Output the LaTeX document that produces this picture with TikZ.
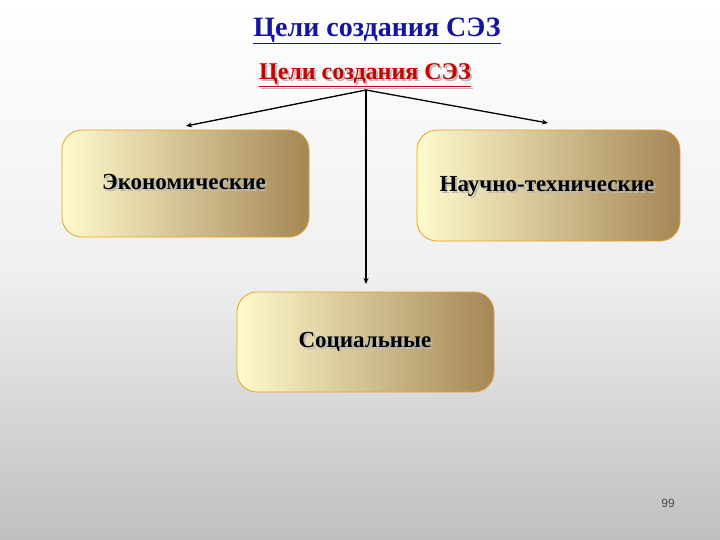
\documentclass[tikz,border=0pt]{standalone}
\usepackage{fontspec}
\setmainfont{Liberation Serif}
\setsansfont{Liberation Sans}
\usetikzlibrary{arrows.meta,shadows}
\definecolor{boxl}{RGB}{255,250,205}
\definecolor{boxr}{RGB}{165,135,85}
\definecolor{brd}{RGB}{235,160,40}
\tikzset{
 goal/.style={rounded corners=20pt,draw=brd,line width=0.8pt,left color=boxl,right color=boxr,shading angle=90},
 lbl/.style={font=\bfseries\fontsize{23}{27}\selectfont,text=black},
 conn/.style={line width=1.3pt,-{Stealth[length=6pt,width=5pt]}}
}
\newcommand{\shtext}[1]{\tikz[baseline]{\node[inner sep=0,anchor=base,text=gray!55] at (2pt,-2pt){#1};\node[inner sep=0,anchor=base] at (0,0){#1};}}
\begin{document}
\begin{tikzpicture}[x=1pt,y=-1pt]
\shade[top color=white,bottom color=black!25,middle color=black!6] (0,0) rectangle (720,540);
\useasboundingbox (0,0) rectangle (720,540);
\node (title) at (377,31) {\textcolor[RGB]{20,20,160}{\bfseries\fontsize{28}{32}\selectfont\underline{Цели создания СЭЗ}}};
\node (sub) at (366,76) {\textcolor[RGB]{200,0,0}{\bfseries\fontsize{24}{28}\selectfont\shtext{\underline{Цели создания СЭЗ}}}};
\coordinate (top) at (366,90);
\node[goal,minimum width=247pt,minimum height=107pt] (eco) at (185.5,183.5) {};
\node[goal,minimum width=263pt,minimum height=111pt] (sci) at (548.5,185.5) {};
\node[goal,minimum width=257pt,minimum height=100pt] (soc) at (365.5,342) {};
\node[lbl] at (185,183) {\shtext{Экономические}};
\node[lbl] at (548,187) {\shtext{Научно-технические}};
\node[lbl] at (366,343) {\shtext{Социальные}};
\coordinate (a1) at (186,126);
\coordinate (a2) at (548,123);
\coordinate (a3) at (366,284);
\draw[conn] (top) -- (a1);
\draw[conn] (top) -- (a2);
\draw[conn] (top) -- (a3);
\node[font=\sffamily\fontsize{12}{14}\selectfont,text=black!70] (pg) at (668,503) {99};
\end{tikzpicture}
\end{document}
